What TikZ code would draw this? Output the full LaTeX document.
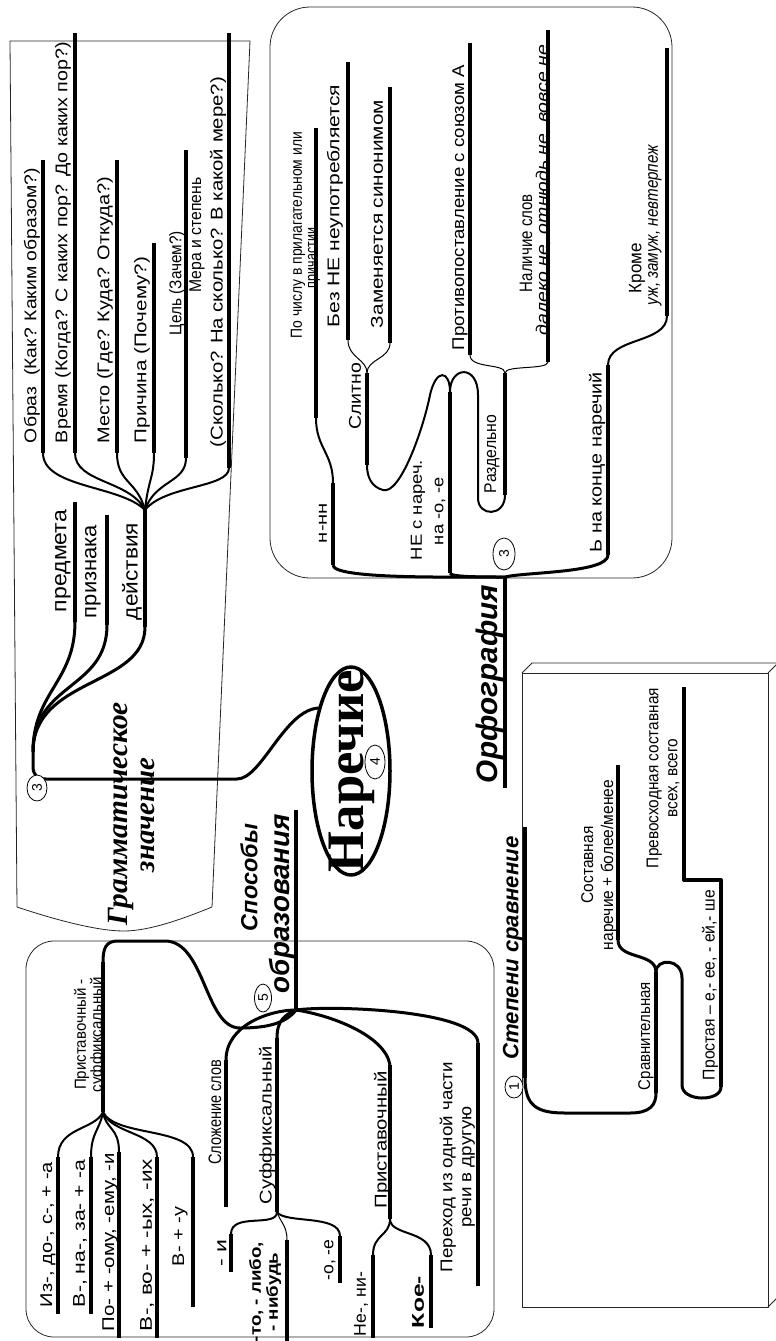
\documentclass[tikz,border=0pt]{standalone}
\usepackage{fontspec}
\usepackage{graphicx}
\usetikzlibrary{shapes.geometric}
\setmainfont{Liberation Sans}
\newfontfamily\tnr{Liberation Serif}
% fit a label to a given length (uniform scaling)
\newcommand\fitt[2]{\resizebox{#1pt}{!}{#2}}
% set a label at a given size and stretch it along its line to a given length
\newsavebox\lblbox
\newdimen\lbldim
\newcommand\fith[4]{%
  \sbox\lblbox{\fontsize{#2pt}{#3pt}\selectfont #4}%
  \lbldim=\wd\lblbox
  \pgfmathsetmacro\lblsx{#1/\lbldim}%
  \scalebox{\lblsx}[1]{\usebox\lblbox}}
\newcommand\two[2]{\begin{tabular}{@{}c@{}}#1\\#2\end{tabular}}
\tikzset{
  frame/.style={line width=0.8, draw=black!85},
  bar/.style={line width=4, line cap=butt},
  link/.style={line width=3},
  midlink/.style={line width=2},
  thinlink/.style={line width=1},
  lbl/.style={rotate=90, inner sep=0, anchor=center},
  num/.style={draw, ellipse, rotate=90, inner sep=0, fill=white, line width=0.8,
    minimum width=26, minimum height=20, font=\fontsize{14}{14}\selectfont},
}
\begin{document}
\begin{tikzpicture}[x=1pt, y=-1pt, line join=round]
\useasboundingbox (0,0) rectangle (776,1341);
\clip (0,0) rectangle (776,1341);

% ---------- frames ----------
\draw[frame] (10,41) -- (250,41) -- (212,907)
  .. controls (185,918) and (150,931) .. (124,931)
  .. controls (95,931) and (50,918) .. (17,907) -- cycle;
\draw[frame, rounded corners=40] (270,7) rectangle (672,578);
\draw[frame, rounded corners=28] (26,941) rectangle (494,1337);
% box with depth
\draw[frame] (522,673) rectangle (768,1307);
\draw[frame] (522,673) -- (532,663) -- (778,663) -- (768,673);
\draw[frame] (768,1307) -- (778,1297) -- (778,663);

% ---------- grammatical meaning ----------
\coordinate (gObT) at (43,160);   \coordinate (gObB) at (43,453);
\coordinate (gVrT) at (75,33);    \coordinate (gVrB) at (75,453);
\coordinate (gMeT) at (117,160);  \coordinate (gMeB) at (117,453);
\coordinate (gPrT) at (154,243);  \coordinate (gPrB) at (154,453);
\coordinate (gTsT) at (186,150);  \coordinate (gTsB) at (186,458);
\coordinate (gMrT) at (229,33);   \coordinate (gMrB) at (229,468);
\coordinate (gAct) at (145,510);  \coordinate (gActB) at (145,627);
\coordinate (gPredT) at (75,502); \coordinate (gPredB) at (75,622);
\coordinate (gPrizT) at (107,515);\coordinate (gPrizB) at (107,625);
\coordinate (gRoot) at (33,752);
\coordinate (NarIn) at (320,708);

\foreach \t/\b in {gObT/gObB, gVrT/gVrB, gMeT/gMeB, gPrT/gPrB, gTsT/gTsB, gMrT/gMrB,
                   gAct/gActB, gPredT/gPredB, gPrizT/gPrizB}
  \draw[bar] (\t) -- (\b);
\draw[midlink] (gObB) .. controls +(0,35) and +(-25,-25) .. (gAct);
\draw[midlink] (gVrB) .. controls +(0,30) and +(-15,-30) .. (gAct);
\draw[midlink] (gMeB) .. controls +(0,30) and +(-8,-30) .. (gAct);
\draw[midlink] (gPrB) .. controls +(0,25) and +(3,-30) .. (gAct);
\draw[midlink] (gTsB) .. controls +(0,25) and +(10,-30) .. (gAct);
\draw[midlink] (gMrB) .. controls +(0,20) and +(20,-25) .. (gAct);
\draw[link] (gPredB) .. controls +(0,60) and +(0,-60) .. (gRoot);
\draw[link] (gPrizB) .. controls +(0,65) and +(0,-70) .. (gRoot);
\draw[link] (gActB) .. controls +(0,60) and +(0,-75) .. (gRoot);
\draw[link] (gRoot) -- (33,766) .. controls (33,775) and (37,779) .. (46,779) -- (237,779)
  .. controls (262,779) and (285,708) .. (NarIn);

\node[lbl] (tObraz) at (32,305.5) {\fith{275}{17}{19}{Образ\ \ (Как? Каким образом?)}};
\node[lbl] (tVremya) at (63,242.5) {\fith{401}{17}{19}{Время (Когда? С каких пор? До каких пор?)}};
\node[lbl] (tMesto) at (105,310) {\fith{266}{17}{19}{Место (Где? Куда? Откуда?)}};
\node[lbl] (tPrich) at (142,350) {\fith{186}{17}{19}{Причина (Почему?)}};
\node[lbl] (tTsel) at (177,283) {\fith{104}{17}{19}{Цель (Зачем?)}};
\node[lbl] (tMera1) at (197,235) {\fith{115}{17}{19}{Мера и степень}};
\node[lbl] (tMera2) at (218,262) {\fith{370}{17}{19}{(Сколько? На сколько? В какой мере?)}};
\node[lbl] (tPred) at (63,561) {\fith{102}{21}{23}{предмета}};
\node[lbl] (tPriz) at (93,571.5) {\fith{93}{21}{23}{признака}};
\node[lbl] (tDeys) at (132,571.5) {\fith{97}{21}{23}{действия}};
\node[lbl] (tGram1) at (121,813.5) {\fitt{223}{\tnr\bfseries\itshape Грамматическое}};
\node[lbl] (tGram2) at (148,815) {\fitt{114}{\tnr\bfseries\itshape значение}};
\node[num] (g3) at (37,788) {3};

% ---------- central node ----------
\node[draw, ellipse, rotate=90, line width=3.5, minimum width=208, minimum height=78,
  inner sep=0] (Nar) at (351,771) {};
\node[lbl] (tNar) at (352,771) {\fitt{202}{\tnr\bfseries Наречие}};
\node[num, fill=none, minimum width=34, minimum height=20] (n4) at (375,762) {4};

% ---------- orthography ----------
\coordinate (oHub) at (505,577);
\coordinate (oHead) at (505,788);
\coordinate (oNNt) at (333,483);  \coordinate (oNNb) at (333,565);
\coordinate (oPCt) at (316,128);  \coordinate (oPCb) at (316,418);
\coordinate (oNEt) at (450,392);  \coordinate (oNEb) at (450,573);
\coordinate (oSLt) at (367,373);  \coordinate (oSLb) at (367,465);
\coordinate (oRZt) at (505,373);  \coordinate (oRZb) at (505,495);
\coordinate (oBNt) at (348,62);   \coordinate (oBNb) at (348,340);
\coordinate (oZMt) at (390,87);   \coordinate (oZMb) at (390,343);
\coordinate (oPTt) at (470,43);   \coordinate (oPTb) at (470,355);
\coordinate (oNLt) at (548,30);   \coordinate (oNLb) at (548,362);
\coordinate (oKRt) at (667,48);   \coordinate (oKRb) at (667,316);
\coordinate (oMZt) at (608,365);  \coordinate (oMZb) at (608,555);

\foreach \t/\b in {oHub/oHead, oNNt/oNNb, oPCt/oPCb, oNEt/oNEb, oSLt/oSLb, oRZt/oRZb,
                   oBNt/oBNb, oZMt/oZMb, oPTt/oPTb, oNLt/oNLb, oKRt/oKRb, oMZt/oMZb}
  \draw[bar] (\t) -- (\b);
\draw[link] (oNNb) .. controls +(0,14) and +(-60,0) .. (oHub);
\draw[link] (oNEb) .. controls +(0,4) and +(-25,0) .. (oHub);
\draw[link] (oHub) .. controls +(20,-5) and +(0,18) .. (oMZb);
\draw[midlink] (oPCb) .. controls +(0,30) and +(0,-30) .. (oNNt);
\draw[midlink] (oNEt) .. controls (450,370) and (436,368) .. (430,395)
  .. controls (423,430) and (400,495) .. (383,490)
  .. controls (372,487) and (367,478) .. (oSLb);
\draw[midlink] (oNEt) .. controls (450,366) and (478,364) .. (478,395) -- (478,498)
  .. controls (478,517) and (505,517) .. (oRZb);
\draw[thinlink] (oSLt) .. controls +(0,-14) and +(0,18) .. (oBNb);
\draw[thinlink] (oSLt) .. controls +(0,-14) and +(0,16) .. (oZMb);
\draw[thinlink] (oRZt) .. controls +(0,-10) and +(0,14) .. (oPTb);
\draw[thinlink] (oRZt) .. controls +(0,-8) and +(0,8) .. (oNLb);
\draw[midlink] (oMZt) .. controls +(0,-28) and +(0,28) .. (oKRb);

\node[lbl] (tPoCh1) at (298,235) {\fith{206}{16}{18}{По числу в прилагательном или}};
\node[lbl] (tPoCh2) at (314,258) {\fith{60}{16}{18}{причастии}};
\node[lbl] (tNNN) at (323,523) {\fith{40}{15}{17}{н-нн}};
\node[lbl] (tBezNe) at (335,206) {\fith{242}{17}{19}{Без НЕ неупотребляется}};
\node[lbl] (tZam) at (377,214) {\fith{228}{17}{19}{Заменяется синонимом}};
\node[lbl] (tSlit) at (355,396) {\fith{67}{17}{19}{Слитно}};
\node[lbl] (tNe1) at (418,510) {\fith{100}{16}{18}{НЕ с нареч.}};
\node[lbl] (tNe2) at (440,511) {\fith{68}{16}{18}{на -о, -е}};
\node[lbl] (tProt) at (460,207.5) {\fith{285}{17}{19}{Противопоставление с союзом А}};
\node[lbl] (tRazd) at (492,454) {\fith{78}{17}{19}{Раздельно}};
\node[lbl] (tNal1) at (526,243) {\fith{98}{18}{20}{Наличие слов}};
\node[lbl] (tNal2) at (543,190) {\fith{290}{17}{19}{\itshape далеко не, отнюдь не, вовсе не}};
\node[lbl] (tKrome1) at (637,268) {\fith{50}{18}{20}{Кроме}};
\node[lbl] (tKrome2) at (655,225) {\fith{160}{18}{20}{\itshape уж, замуж, невтерпеж}};
\node[lbl] (tMz) at (597,462) {\fith{180}{17}{19}{Ь на конце наречий}};
\node[lbl] (tOrf) at (490,684) {\fitt{198}{\bfseries\itshape Орфография}};
\node[num, minimum width=32, minimum height=22] (o3) at (504,554) {3};

% ---------- degrees of comparison ----------
\coordinate (dTop) at (525,827);   \coordinate (dBot) at (525,1078);
\coordinate (dSVt) at (656,972);   \coordinate (dSVb) at (656,1093);
\coordinate (dSSt) at (618,765);   \coordinate (dSSb) at (618,940);
\coordinate (dPRt) at (721,880);   \coordinate (dPRb) at (721,1087);
\coordinate (dPVt) at (684,687);   \coordinate (dPVb) at (684,880);

\draw[bar] (dTop) -- (dBot);
\draw[bar] (dSVt) -- (dSVb);
\draw[bar] (dSSt) -- (dSSb);
\draw[bar] (dPVt) -- (dPVb) -- (dPRt) -- (dPRb);
\draw[link] (dBot) .. controls (525,1106) and (537,1113) .. (565,1113) -- (630,1113)
  .. controls (650,1113) and (656,1105) .. (dSVb);
\draw[link] (dSVt) .. controls +(0,-20) and +(0,20) .. (dSSb);
\draw[link] (dSVt) .. controls (656,958) and (682,958) .. (682,978) -- (682,1085)
  .. controls (682,1102) and (721,1102) .. (dPRb);

\node[lbl] (tStep) at (513,948) {\fitt{223}{\bfseries\itshape Степени сравнение}};
\node[lbl] (tSrav) at (646,1036) {\fith{108}{17}{19}{Сравнительная}};
\node[lbl] (tSost) at (599,865) {\fith{170}{17}{20}{\two{Составная}{наречие + более/менее}}};
\node[lbl] (tProst) at (710,985) {\fith{190}{17}{19}{Простая – е,- ее, - ей,- ше}};
\node[lbl] (tPrev) at (664,778) {\fith{180}{17}{19}{\two{Превосходная составная}{всех, всего}}};
\node[num, minimum width=22, minimum height=18] (d1) at (514,1087) {1};

% ---------- ways of formation ----------
\coordinate (sHub) at (296,1010);  \coordinate (sHead) at (296,810);
\coordinate (sPSt) at (103,962);   \coordinate (sPSb) at (103,1112);
\coordinate (sIzt) at (58,1157);   \coordinate (sIzb) at (58,1314);
\coordinate (sVnt) at (91,1157);   \coordinate (sVnb) at (91,1314);
\coordinate (sPot) at (119,1152);  \coordinate (sPob) at (119,1338);
\coordinate (sVvt) at (157,1157);  \coordinate (sVvb) at (157,1338);
\coordinate (sVut) at (193,1157);  \coordinate (sVub) at (193,1307);
\coordinate (sSLt) at (226,1060);  \coordinate (sSLb) at (226,1207);
\coordinate (sSFt) at (277,1038);  \coordinate (sSFb) at (277,1212);
\coordinate (sIt) at (231,1234);   \coordinate (sIb) at (231,1272);
\coordinate (sTot) at (287,1240);  \coordinate (sTob) at (287,1345);
\coordinate (sOEt) at (340,1236);  \coordinate (sOEb) at (340,1283);
\coordinate (sPRt) at (390,1065);  \coordinate (sPRb) at (390,1219);
\coordinate (sNet) at (373,1255);  \coordinate (sNeb) at (373,1338);
\coordinate (sKot) at (431,1255);  \coordinate (sKob) at (431,1328);
\coordinate (sPHt) at (478,1043);  \coordinate (sPHb) at (478,1286);

\foreach \t/\b in {sHead/sHub, sPSt/sPSb, sIzt/sIzb, sVnt/sVnb, sPot/sPob, sVvt/sVvb,
                   sVut/sVub, sSLt/sSLb, sSFt/sSFb, sIt/sIb, sTot/sTob, sOEt/sOEb,
                   sPRt/sPRb, sNet/sNeb, sKot/sKob, sPHt/sPHb}
  \draw[bar] (\t) -- (\b);
\draw[link] (sHub) .. controls (285,1025) and (262,1028) .. (240,1028)
  .. controls (205,1028) and (205,941) .. (165,941) -- (118,941)
  .. controls (106,941) and (103,948) .. (sPSt);
\draw[midlink] (sPSb) .. controls +(-8,18) and +(0,-30) .. (sIzt);
\draw[midlink] (sPSb) .. controls +(-3,18) and +(0,-25) .. (sVnt);
\draw[midlink] (sPSb) .. controls +(3,18) and +(0,-25) .. (sPot);
\draw[midlink] (sPSb) .. controls +(8,22) and +(0,-25) .. (sVvt);
\draw[midlink] (sPSb) .. controls +(12,25) and +(0,-30) .. (sVut);
\draw[link] (sHub) .. controls (270,1010) and (226,1025) .. (sSLt);
\draw[link] (sHub) .. controls (285,1015) and (277,1020) .. (sSFt);
\draw[link] (sHub) .. controls (330,1015) and (385,1035) .. (sPRt);
\draw[link] (sHub) .. controls (330,1005) and (478,1010) .. (sPHt);
\draw[midlink] (sSFb) .. controls (277,1228) and (231,1212) .. (sIt);
\draw[thinlink] (sSFb) .. controls (280,1222) and (287,1225) .. (sTot);
\draw[midlink] (sSFb) .. controls (285,1224) and (340,1214) .. (sOEt);
\draw[midlink] (sPRb) .. controls (390,1236) and (373,1234) .. (sNet);
\draw[midlink] (sPRb) .. controls (390,1236) and (431,1230) .. (sKot);

\node[lbl] (tSpos1) at (249,877.5) {\fitt{107}{\bfseries\itshape Способы}};
\node[lbl] (tSpos2) at (282,903.5) {\fitt{179}{\bfseries\itshape образования}};
\node[num, minimum width=28, minimum height=17] (s5) at (263,998) {5};
\node[lbl] (tPS) at (90,1034.5) {\fith{115}{16}{14}{\two{Приставочный -}{суффиксальный}}};
\node[lbl] (tIz) at (48,1234.5) {\fith{145}{17}{19}{Из-, до-, с-, + -а}};
\node[lbl] (tVn) at (80,1233.5) {\fith{147}{17}{19}{В-, на-, за- + -а}};
\node[lbl] (tPo) at (110,1242) {\fith{178}{17}{19}{По- + -ому, -ему, -и}};
\node[lbl] (tVv) at (147,1245) {\fith{172}{17}{19}{В-, во- + -ых, -их}};
\node[lbl] (tVu) at (180,1236.5) {\fith{59}{17}{19}{В- + -у}};
\node[lbl] (tSlo) at (215,1112) {\fith{105}{18}{20}{Сложение слов}};
\node[lbl] (tSuf) at (267,1125) {\fith{158}{17}{19}{Суффиксальный}};
\node[lbl] (tI) at (222,1253) {\fith{27}{17}{19}{- и}};
\node[lbl] (tTo) at (266,1292) {\fith{100}{16}{17}{\bfseries\two{-то, - либо,}{- нибудь}}};
\node[lbl] (tOE) at (330,1260) {\fith{41}{17}{19}{-о, -е}};
\node[lbl] (tPri) at (382,1140) {\fith{137}{17}{19}{Приставочный}};
\node[lbl] (tNeNi) at (361,1304) {\fith{64}{17}{19}{Не-, ни-}};
\node[lbl] (tKoe) at (418,1302) {\fith{52}{17}{19}{\bfseries Кое-}};
\node[lbl] (tPer) at (458,1167) {\fith{210}{17}{19}{\two{Переход из одной части}{речи в другую}}};
\end{tikzpicture}
\end{document}
